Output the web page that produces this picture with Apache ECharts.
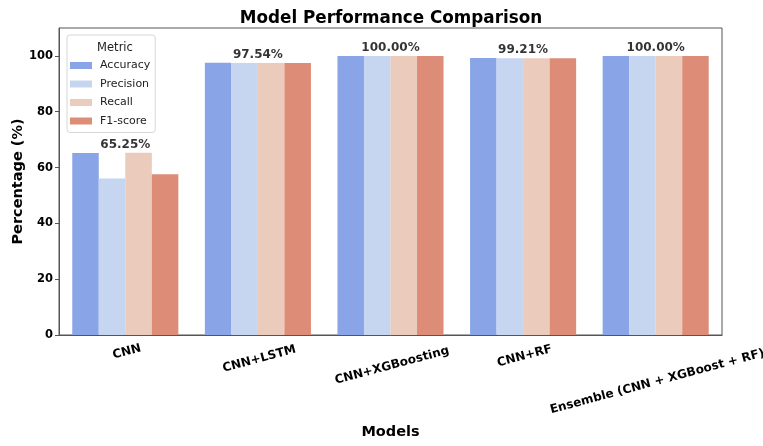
<!DOCTYPE html>
<html>
<head>
<meta charset="utf-8">
<script src="https://cdn.jsdelivr.net/npm/echarts@6/dist/echarts.min.js"></script>
<style>
  html, body { margin: 0; padding: 0; background: #fff; }
  #chart { width: 763px; height: 446px; }
</style>
</head>
<body>
<div id="chart"></div>
<script>
// 数据
var models = ['CNN', 'CNN+LSTM', 'CNN+XGBoosting', 'CNN+RF', 'Ensemble (CNN + XGBoost + RF)'];
var metrics = ['Accuracy', 'Precision', 'Recall', 'F1-score'];
var accuracy = [65.25, 97.54, 100.00, 99.21, 100.00];
var precision = [56.1, 97.5, 100.0, 99.2, 100.0];
var recall = [65.3, 97.5, 100.0, 99.2, 100.0];
var f1score = [57.6, 97.5, 100.0, 99.2, 100.0];
var yTicks = [0, 20, 40, 60, 80, 100];

var colors = ['#89a5e7', '#c6d5f0', '#eacbbc', '#dd8d77'];
var FONT = '"DejaVu Sans", sans-serif';
var LABEL_SIZE = 12;
var ROT = 15;

// matplotlib 的旋转标签是按包围盒居中的，这里按文字长度往下挪
var ctx = document.createElement('canvas').getContext('2d');
ctx.font = 'bold ' + LABEL_SIZE + 'px ' + FONT;
var w0 = ctx.measureText(models[0]).width;
var sin = Math.sin(ROT * Math.PI / 180), cos = Math.cos(ROT * Math.PI / 180);
var xData = models.map(function (name) {
  var shift = (ctx.measureText(name).width - w0) / 2 * sin * 1.2;
  var p = shift * cos;
  var d = shift * sin;
  return {
    value: name,
    textStyle: {
      align: 'center',
      verticalAlign: 'top',
      padding: [p, 2 * d, 0, 0]
    }
  };
});

var chart = echarts.init(document.getElementById('chart'), null, { renderer: 'canvas' });

function barSeries(name, data, color) {
  return {
    name: name,
    type: 'bar',
    data: data,
    barGap: '0%',
    barCategoryGap: '20%',
    itemStyle: { color: color },
    emphasis: { disabled: true }
  };
}

var option = {
  animation: false,
  textStyle: { fontFamily: FONT },
  title: [{
    text: 'Model Performance Comparison',
    left: 386,
    top: 5,
    textAlign: 'center',
    textStyle: { fontFamily: FONT, fontSize: 16.8, fontWeight: 'bold', color: '#000' }
  }, {
    text: 'Metric',
    left: 110,
    top: 37,
    textAlign: 'center',
    textStyle: { fontFamily: FONT, fontSize: 11.5, fontWeight: 'normal', color: '#222' }
  }],
  legend: {
    data: metrics,
    orient: 'vertical',
    left: 67,
    top: 35,
    padding: [25, 5, 6, 3],
    itemWidth: 22,
    itemHeight: 7,
    itemGap: 7.5,
    icon: 'rect',
    backgroundColor: 'rgba(255,255,255,0.85)',
    borderColor: '#d6d6d6',
    borderWidth: 1,
    borderRadius: 3,
    textStyle: { fontFamily: FONT, fontSize: 11, color: '#222', padding: [0, 0, 0, 3] }
  },
  grid: {
    left: 59,
    right: 41,
    top: 28,
    bottom: 111,
    show: true,
    borderColor: '#555',
    borderWidth: 1,
    containLabel: false,
    outerBoundsMode: 'none'
  },
  xAxis: {
    type: 'category',
    data: xData,
    name: 'Models',
    nameLocation: 'middle',
    nameGap: 90,
    nameMoveOverlap: false,
    nameTextStyle: { fontFamily: FONT, fontSize: 14.5, fontWeight: 'bold', color: '#000' },
    axisLine: { lineStyle: { color: '#555', width: 1 } },
    axisTick: { alignWithLabel: true, length: 4, lineStyle: { color: '#555' } },
    axisLabel: {
      interval: 0,
      rotate: ROT,
      align: 'center',
      verticalAlign: 'top',
      margin: 11,
      hideOverlap: false,
      fontFamily: FONT,
      fontSize: LABEL_SIZE,
      fontWeight: 'bold',
      color: '#000'
    },
    splitLine: { show: false }
  },
  yAxis: {
    type: 'value',
    min: 0,
    max: 110,
    interval: 20,
    name: 'Percentage (%)',
    nameLocation: 'middle',
    nameRotate: 90,
    nameGap: 33,
    nameMoveOverlap: false,
    nameTextStyle: { fontFamily: FONT, fontSize: 14.5, fontWeight: 'bold', color: '#000' },
    axisLine: { show: true, lineStyle: { color: '#555', width: 1 } },
    axisTick: { show: true, length: 4, customValues: yTicks, lineStyle: { color: '#555' } },
    axisLabel: {
      customValues: yTicks,
      margin: 6,
      fontFamily: FONT,
      fontSize: 11.5,
      fontWeight: 'bold',
      color: '#000'
    },
    splitLine: { show: false }
  },
  series: [
    barSeries('Accuracy', accuracy, colors[0]),
    barSeries('Precision', precision, colors[1]),
    barSeries('Recall', recall, colors[2]),
    barSeries('F1-score', f1score, colors[3]),
    {
      // 组顶部的准确率标注
      name: 'acc-label',
      type: 'scatter',
      data: accuracy,
      symbolSize: 0,
      silent: true,
      z: 10,
      label: {
        show: true,
        position: 'top',
        distance: 2,
        fontFamily: FONT,
        fontSize: 12,
        fontWeight: 'bold',
        color: '#000',
        formatter: function (p) { return p.value.toFixed(2) + '%'; }
      }
    }
  ]
};

chart.setOption(option);
</script>
</body>
</html>
